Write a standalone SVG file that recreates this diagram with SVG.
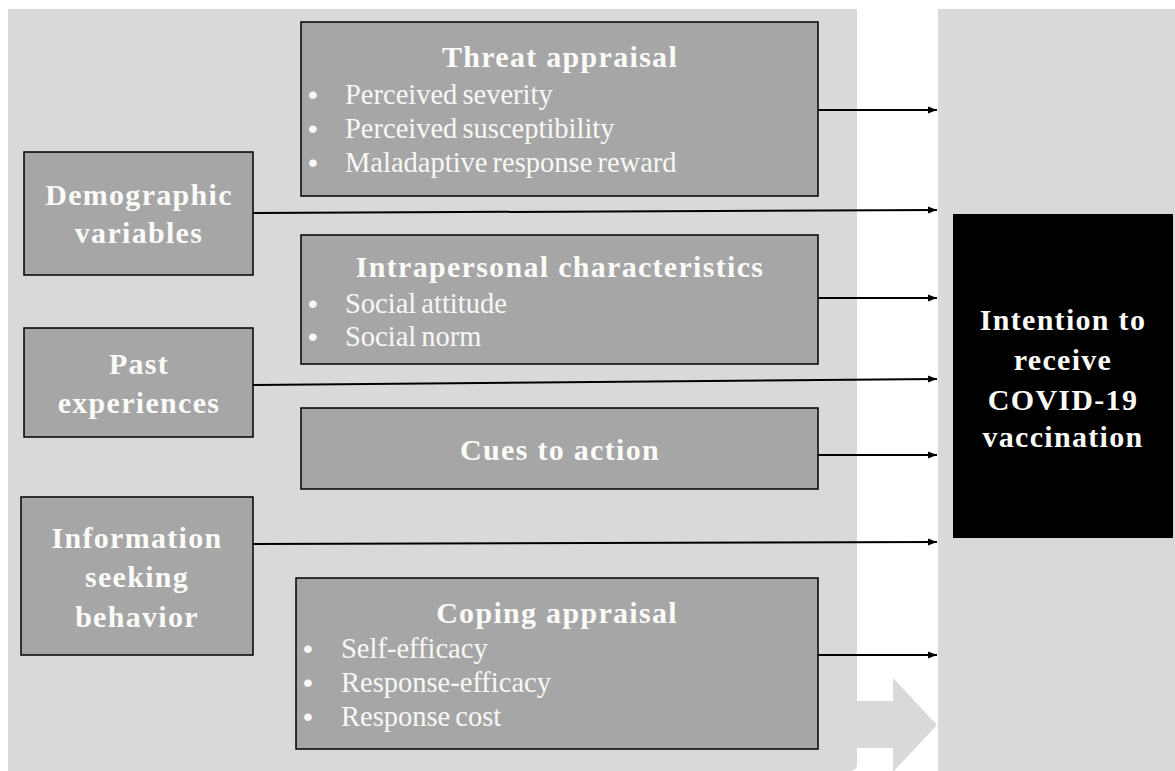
<svg xmlns="http://www.w3.org/2000/svg" width="1175" height="771" viewBox="0 0 1175 771">
<style>
.box{fill:#a6a6a6;stroke:#000;stroke-width:1.5}
.h{font-family:"Liberation Serif","Times New Roman",serif;font-weight:bold;font-size:30px;fill:#fbfbf8;letter-spacing:1.3px;text-anchor:middle}
.t{font-family:"Liberation Serif","Times New Roman",serif;font-size:28.5px;fill:#f8f8f5;word-spacing:-2px}
.b{font-family:"Liberation Sans",Arial,sans-serif;font-size:28px;fill:#f8f8f5;text-anchor:middle}
.c{stroke:#000;stroke-width:2;fill:none;marker-end:url(#ah)}
</style>
<defs>
<marker id="ah" markerWidth="10" markerHeight="8" refX="9" refY="4" orient="auto" markerUnits="userSpaceOnUse">
<path d="M0,0.5 L9,4 L0,7.5 Z" fill="#000"/>
</marker>
</defs>
<rect width="1175" height="771" fill="#fff"/>
<path d="M8,9 H857 V701 H893 V678 L937,725 L893,772 V748 H857 V764 Q857,771 850,771 H8 Z" fill="#d9d9d9"/>
<rect x="938" y="9" width="237" height="762" fill="#d9d9d9"/>

<g id="threat">
<rect class="box" x="301" y="22" width="517" height="174"/>
<text class="h" x="560" y="67">Threat appraisal</text>
<text class="b" x="313" y="104">•</text><text class="t" x="345" y="104">Perceived severity</text>
<text class="b" x="313" y="138">•</text><text class="t" x="345" y="138">Perceived susceptibility</text>
<text class="b" x="313" y="172">•</text><text class="t" x="345" y="172">Maladaptive response reward</text>
</g>
<g id="demographic">
<rect class="box" x="24" y="152" width="229" height="123"/>
<text class="h" x="139" y="205">Demographic</text>
<text class="h" x="139" y="243">variables</text>
</g>
<g id="intrapersonal">
<rect class="box" x="301" y="235" width="517" height="129"/>
<text class="h" x="560" y="277">Intrapersonal characteristics</text>
<text class="b" x="313" y="313">•</text><text class="t" x="345" y="313">Social attitude</text>
<text class="b" x="313" y="346">•</text><text class="t" x="345" y="346">Social norm</text>
</g>
<g id="past">
<rect class="box" x="24" y="328" width="229" height="109"/>
<text class="h" x="139" y="374">Past</text>
<text class="h" x="139" y="413">experiences</text>
</g>
<g id="cues">
<rect class="box" x="301" y="408" width="517" height="81"/>
<text class="h" x="560" y="460">Cues to action</text>
</g>
<g id="information">
<rect class="box" x="21" y="497" width="232" height="158"/>
<text class="h" x="137" y="548">Information</text>
<text class="h" x="137" y="587">seeking</text>
<text class="h" x="137" y="627">behavior</text>
</g>
<g id="coping">
<rect class="box" x="296" y="578" width="522" height="171"/>
<text class="h" x="557" y="623">Coping appraisal</text>
<text class="b" x="308" y="658">•</text><text class="t" x="341" y="658">Self-efficacy</text>
<text class="b" x="308" y="692">•</text><text class="t" x="341" y="692">Response-efficacy</text>
<text class="b" x="308" y="726">•</text><text class="t" x="341" y="726">Response cost</text>
</g>
<g id="intention">
<rect x="953" y="214" width="220" height="324" fill="#000"/>
<text class="h" x="1063" y="330">Intention to</text>
<text class="h" x="1063" y="370">receive</text>
<text class="h" x="1063" y="410">COVID-19</text>
<text class="h" x="1063" y="447">vaccination</text>
</g>
<g id="connectors">
<line class="c" x1="818" y1="110" x2="937" y2="110"/>
<line class="c" x1="253" y1="213" x2="937" y2="210"/>
<line class="c" x1="818" y1="298" x2="937" y2="298"/>
<line class="c" x1="253" y1="385" x2="937" y2="379"/>
<line class="c" x1="818" y1="455" x2="937" y2="455"/>
<line class="c" x1="253" y1="544" x2="937" y2="542"/>
<line class="c" x1="818" y1="655" x2="937" y2="655"/>
</g>
</svg>
